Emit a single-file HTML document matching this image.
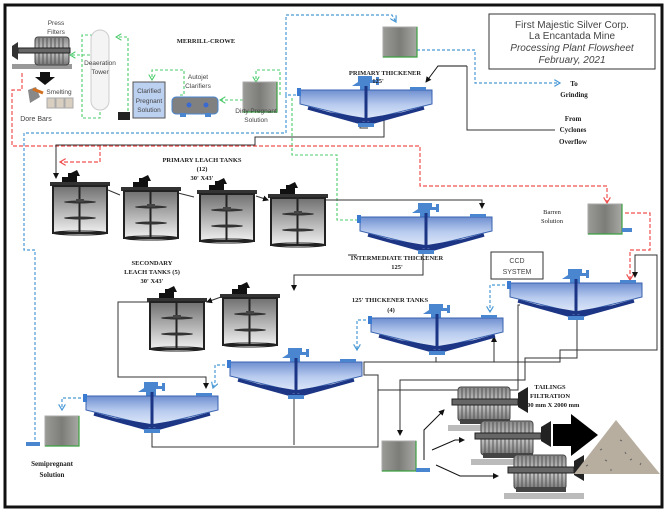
<!DOCTYPE html>
<html><head><meta charset="utf-8"><style>
html,body{margin:0;padding:0;background:#fff;width:668px;height:514px;overflow:hidden}
svg{display:block}
.s{font-family:"Liberation Serif",serif;font-weight:bold;fill:#222}
.a{font-family:"Liberation Sans",sans-serif;fill:#444}
</style></head><body>
<svg width="668" height="514" viewBox="0 0 668 514" xmlns="http://www.w3.org/2000/svg">
<defs>
<linearGradient id="bl" x1="0" y1="0" x2="0" y2="1"><stop offset="0" stop-color="#6f8fd0"/><stop offset="0.5" stop-color="#b9ccef"/><stop offset="1" stop-color="#dfe8f8"/></linearGradient>
<linearGradient id="gt" x1="0" y1="0" x2="0" y2="1"><stop offset="0" stop-color="#707070"/><stop offset="1" stop-color="#f0f0f0"/></linearGradient>
<linearGradient id="gs" x1="0" y1="0" x2="1" y2="0"><stop offset="0" stop-color="#9a9a96"/><stop offset="0.5" stop-color="#7c7c78"/><stop offset="1" stop-color="#a8a8a4"/></linearGradient>
<linearGradient id="pf" x1="0" y1="0" x2="0" y2="1"><stop offset="0" stop-color="#888"/><stop offset="0.5" stop-color="#ccc"/><stop offset="1" stop-color="#777"/></linearGradient>
<marker id="ab" markerWidth="6" markerHeight="6" refX="5" refY="3" orient="auto"><path d="M0,0L5,3L0,6" fill="none" stroke="#4a9ad8" stroke-width="1"/></marker>
<marker id="ar" markerWidth="6" markerHeight="6" refX="5" refY="3" orient="auto"><path d="M0,0L5,3L0,6" fill="none" stroke="#f05050" stroke-width="1"/></marker>
<marker id="ag" markerWidth="6" markerHeight="6" refX="5" refY="3" orient="auto"><path d="M0,0L5,3L0,6" fill="none" stroke="#4ccc6c" stroke-width="1"/></marker>
<marker id="ak" markerWidth="6" markerHeight="6" refX="5" refY="3" orient="auto"><path d="M0,0L6,3L0,6z" fill="#111"/></marker>
<g id="th">
 <path d="M58,-14h14v4h4v-3h3v8h-3v-2h-6v7h-10v-4h-8l6-4z" fill="#4a86d0"/>
 <path d="M0,0H132V14L66,30L0,14Z" fill="url(#bl)" stroke="#3a63b0" stroke-width="1"/>
 <rect x="-3" y="-2" width="4" height="8" fill="#3a7ad0"/>
 <rect x="110" y="-3" width="16" height="3" fill="#4a86d0"/>
 <path d="M8,18L66,34L124,18M30,24L66,30L102,24" stroke="#1c3585" stroke-width="3.5" fill="none"/>
 <rect x="64.5" y="-4" width="3" height="38" fill="#1c3585"/>
 <rect x="58" y="33" width="16" height="4" fill="#4a86d0"/>
</g>
<g id="lt">
 <path d="M10,-5h6v-4h3l6,-3l3,6h-3v6h-15z" fill="#111"/>
 <rect x="-2" y="0" width="60" height="4" fill="#333"/>
 <rect x="1" y="4" width="54" height="47" fill="url(#gt)" stroke="#222" stroke-width="2"/>
 <ellipse cx="28" cy="51" rx="27" ry="2" fill="none" stroke="#222"/>
 <rect x="26.5" y="4" width="2" height="47" fill="#222"/>
 <ellipse cx="28" cy="20" rx="16" ry="1.5" fill="#333"/>
 <ellipse cx="28" cy="36" rx="16" ry="1.5" fill="#333"/>
 <rect x="24" y="17" width="8" height="3" fill="#444"/>
</g>
<g id="gk">
 <rect x="0" y="0" width="34" height="30" fill="url(#gs)" stroke="#aaa"/>
 <path d="M34,0V30H0" stroke="#3aa040" stroke-width="1.2" fill="none"/>
</g>
<g id="pr">
 <rect x="-4" y="40" width="80" height="6" fill="#bbb"/>
 <rect x="6" y="2" width="52" height="34" rx="3" fill="url(#pf)" stroke="#444"/>
 <path d="M10,3v32M14,3v32M18,3v32M22,3v32M26,3v32M30,3v32M34,3v32M38,3v32M42,3v32M46,3v32M50,3v32M54,3v32" stroke="#555" stroke-width="1"/>
 <rect x="0" y="14" width="66" height="6" fill="#666" stroke="#222"/>
 <path d="M66,8l10,-6v26l-10,-6z" fill="#222"/>
 <rect x="8" y="34" width="50" height="5" fill="#444"/>
</g>
</defs>

<rect x="5" y="5" width="657" height="502" fill="none" stroke="#111" stroke-width="3"/>
<rect x="489" y="14" width="166" height="55" fill="#fff" stroke="#333"/>
<text class="a" x="572" y="28" font-size="10" text-anchor="middle" fill="#111">First Majestic Silver Corp.</text>
<text class="a" x="572" y="39" font-size="10" text-anchor="middle" fill="#111">La Encantada Mine</text>
<text class="a" x="572" y="51" font-size="10" text-anchor="middle" font-style="italic" fill="#111">Processing Plant Flowsheet</text>
<text class="a" x="572" y="63" font-size="10" text-anchor="middle" font-style="italic" fill="#111">February, 2021</text>

<g fill="none" stroke="#4a9ad8" stroke-width="1.2" stroke-dasharray="3,2">
<path d="M296,95H286V15H392L396,22" marker-end="url(#ab)"/>
<path d="M417,50H475V83H560" marker-end="url(#ab)"/>
<path d="M286,95V133H24V250H35V445"/>
<path d="M230,365H215V382L213,388" marker-end="url(#ab)"/>
<path d="M86,398H62V410" marker-end="url(#ab)"/>
<path d="M371,320H357V350" marker-end="url(#ab)"/>
<path d="M510,285H490V312" marker-end="url(#ab)"/>
</g>
<g fill="none" stroke="#4ccc6c" stroke-width="1.1" stroke-dasharray="3,2">
<path d="M125,113H128V37H116" marker-end="url(#ag)"/>
<path d="M98,35H82V118H100V55H70" marker-end="url(#ag)"/>
<path d="M180,95H184V70H152V80" marker-end="url(#ag)"/>
<path d="M243,100H220" marker-end="url(#ag)"/>
<path d="M280,95V70H256V82" marker-end="url(#ag)"/>
<path d="M292,98V155H337V220H358"/>
</g>
<g fill="none" stroke="#f05050" stroke-width="1.2" stroke-dasharray="4,2">
<path d="M22,73V90H12V146H420V186H607V203" marker-end="url(#ar)"/>
<path d="M100,146V162H60" marker-end="url(#ar)"/>
<path d="M625,213H650V250H630V280" marker-end="url(#ar)"/>
</g>
<g fill="none" stroke="#333" stroke-width="1">
<path d="M368,128H360V110H384V137H255V145H56V178" marker-end="url(#ak)"/>
<path d="M467,66H438L426,82" marker-end="url(#ak)" stroke="#111"/>
<path d="M467,66V130H555"/>
<path d="M108,190L120,195M178,193L194,197M256,196L268,200" marker-end="url(#ak)"/>
<path d="M325,200H482V208" marker-end="url(#ak)"/>
<path d="M423,253V275H294V290" marker-end="url(#ak)"/>
<path d="M221,297L207,302" marker-end="url(#ak)"/>
<path d="M149,302H118V377H206V388" marker-end="url(#ak)"/>
<path d="M152,433V447H378V375H364V362H494V337" marker-end="url(#ak)"/>
<path d="M577,318V358H525V380H400V435" marker-end="url(#ak)"/>
<path d="M436,357V362H560V350H657V255H635V277" marker-end="url(#ak)"/>
<path d="M520,305H518V390H378V447"/>
<path d="M357,255H348"/>
<path d="M294,397V445"/>
<path d="M424,460V430L444,410" marker-end="url(#ak)" stroke="#111"/>
<path d="M432,450L455,440H464" marker-end="url(#ak)" stroke="#111"/>
<path d="M436,465L460,476H498" marker-end="url(#ak)" stroke="#111"/>
</g>

<use href="#th" x="300" y="90"/>
<use href="#th" x="360" y="217"/>
<use href="#th" x="510" y="283"/>
<use href="#th" x="371" y="318"/>
<use href="#th" x="230" y="362"/>
<use href="#th" x="86" y="396"/>

<use href="#lt" x="52" y="182"/>
<use href="#lt" x="123" y="187"/>
<use href="#lt" x="199" y="190"/>
<use href="#lt" x="270" y="194"/>
<use href="#lt" x="149" y="298"/>
<use href="#lt" x="222" y="294"/>

<use href="#gk" x="383" y="27"/>
<use href="#gk" x="243" y="82"/>
<use href="#gk" x="588" y="204"/>
<use href="#gk" x="45" y="416"/>
<use href="#gk" x="382" y="441"/>
<g fill="#4a86d0"><rect x="26" y="442" width="14" height="4"/><rect x="622" y="228" width="10" height="4"/><rect x="416" y="468" width="14" height="4"/></g>

<g>
 <rect x="12" y="64" width="60" height="5" fill="#999"/>
 <rect x="35" y="37" width="34" height="28" rx="3" fill="url(#pf)" stroke="#444"/>
 <path d="M39,38v26M43,38v26M47,38v26M51,38v26M55,38v26M59,38v26M63,38v26" stroke="#555"/>
 <rect x="18" y="48" width="52" height="5" fill="#666" stroke="#222"/>
 <path d="M18,42l-6,4v10l6,4z" fill="#333"/>
 <path d="M40,72h10v5h5l-10,8l-10,-8h5z" fill="#111"/>
 <path d="M28,90l8,-3l4,10l-10,6z" fill="#888"/>
 <path d="M33,89l10,4" stroke="#d27020" stroke-width="3"/>
 <g fill="#d8cfc0" stroke="#aaa"><rect x="47" y="98" width="8" height="10"/><rect x="56" y="98" width="8" height="10"/><rect x="65" y="98" width="8" height="10"/></g>
 <rect x="91" y="30" width="18" height="80" rx="9" fill="#f4f4f4" stroke="#ccc"/>
 <rect x="118" y="112" width="12" height="8" fill="#222"/>
 <rect x="133" y="82" width="32" height="36" fill="#bcd0f0" stroke="#555"/>
 <rect x="172" y="97" width="46" height="17" rx="4" fill="#808080" stroke="#4a86d0"/>
 <circle cx="189" cy="105" r="2.5" fill="#3a6ad0"/><circle cx="206" cy="105" r="2.5" fill="#3a6ad0"/>
 <rect x="180" y="113" width="6" height="4" fill="#4a86d0"/><rect x="205" y="113" width="6" height="4" fill="#4a86d0"/>
</g>

<use href="#pr" x="452" y="385"/>
<use href="#pr" x="475" y="419"/>
<use href="#pr" x="508" y="453"/>
<path d="M553,424h18v-10l27,21l-27,21v-10h-18z" fill="#000"/>
<path d="M574,474L616,420L660,474Z" fill="#b8aea0"/>
<path d="M586,466l2,-1M600,450l2,-1M620,440l2,1M630,460l2,-1M610,470l2,0M640,465l1,-2M605,460l2,1M625,452l1,2" stroke="#666"/>

<g class="a" font-size="6.5" text-anchor="middle">
<text x="56" y="25">Press</text><text x="56" y="34">Filters</text>
<text x="100" y="65">Deaeration</text><text x="100" y="74">Tower</text>
<text x="59" y="94">Smelting</text>
<text x="36" y="121" font-size="7">Dore Bars</text>
<text x="149" y="93">Clarified</text><text x="149" y="103">Pregnant</text><text x="149" y="112">Solution</text>
<text x="198" y="79">Autojet</text><text x="198" y="88">Clarifiers</text>
<text x="256" y="113">Dirty Pregnant</text><text x="256" y="122">Solution</text>
</g>
<g class="s" font-size="6.5" text-anchor="middle">
<text x="206" y="43">MERRILL-CROWE</text>
<text x="385" y="75">PRIMARY THICKENER</text><text x="378" y="83">125'</text>
<text x="574" y="86" font-size="7">To</text><text x="574" y="97" font-size="7">Grinding</text>
<text x="573" y="121" font-size="7">From</text><text x="573" y="132" font-size="7">Cyclones</text><text x="573" y="144" font-size="7">Overflow</text>
<text x="202" y="162">PRIMARY LEACH TANKS</text><text x="202" y="171">(12)</text><text x="202" y="180">30' X43'</text>
<text x="552" y="214" font-weight="normal">Barren</text><text x="552" y="223" font-weight="normal">Solution</text>
<text x="397" y="260">INTERMEDIATE THICKENER</text><text x="397" y="269">125'</text>
<text x="152" y="265">SECONDARY</text><text x="152" y="274">LEACH TANKS (5)</text><text x="152" y="283">30' X43'</text>
<text x="390" y="302">125' THICKENER TANKS</text><text x="391" y="312">(4)</text>
<text x="550" y="389">TAILINGS</text><text x="550" y="398">FILTRATION</text><text x="550" y="407">2000 mm X 2000 mm</text>
<text x="52" y="466" font-size="7">Semipregnant</text><text x="52" y="477" font-size="7">Solution</text>
</g>
<rect x="491" y="252" width="52" height="27" fill="none" stroke="#333"/>
<text class="a" x="517" y="263" font-size="7" text-anchor="middle">CCD</text>
<text class="a" x="517" y="274" font-size="7" text-anchor="middle">SYSTEM</text>
</svg>
</body></html>
